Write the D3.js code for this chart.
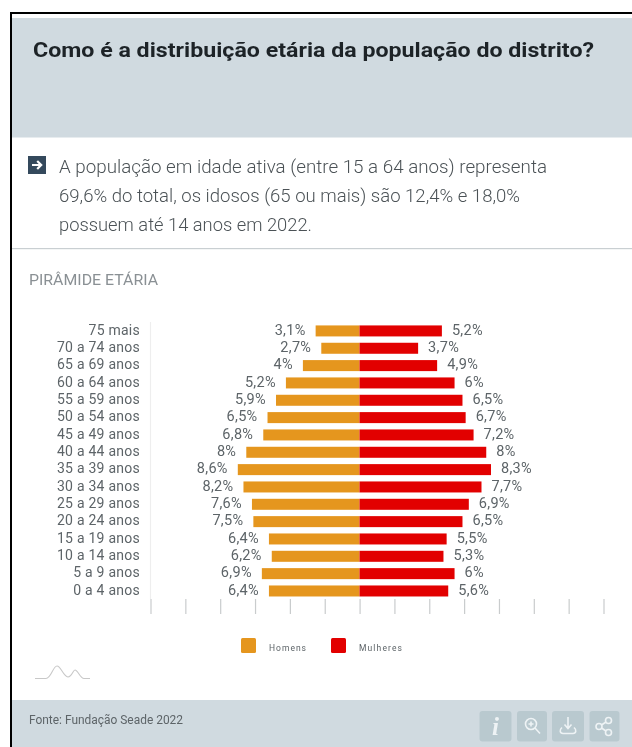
<!DOCTYPE html>
<html lang="pt">
<head>
<meta charset="utf-8">
<script src="https://cdn.jsdelivr.net/npm/d3@7"></script>
<style>
html,body{margin:0;padding:0;background:#fff;overflow:hidden}
svg{display:block;filter:blur(0.5px)}
text{font-family:Roboto,"Open Sans",sans-serif}
</style>
</head>
<body>
<svg id="c" width="632" height="747"></svg>
<script>
const ages = ["75 mais","70 a 74 anos","65 a 69 anos","60 a 64 anos","55 a 59 anos","50 a 54 anos","45 a 49 anos","40 a 44 anos","35 a 39 anos","30 a 34 anos","25 a 29 anos","20 a 24 anos","15 a 19 anos","10 a 14 anos","5 a 9 anos","0 a 4 anos"];
const homens = [3.1,2.7,4,5.2,5.9,6.5,6.8,8,8.6,8.2,7.6,7.5,6.4,6.2,6.9,6.4];
const mulheres = [5.2,3.7,4.9,6,6.5,6.7,7.2,8,8.3,7.7,6.9,6.5,5.5,5.3,6,5.6];
const gridTicks = [-6,-5,-4,-3,-2,-1,0,1,2,3,4,5,6,7];
const seriesNames = ["Homens","Mulheres"];
const seriesColors = ["#e5961e","#e20000"];
const titleText = "Como é a distribuição etária da população do distrito?";
const introLines = ["A população em idade ativa (entre 15 a 64 anos) representa","69,6% do total, os idosos (65 ou mais) são 12,4% e 18,0%","possuem até 14 anos em 2022."];
const sectionLabel = "PIRÂMIDE ETÁRIA";
const sourceText = "Fonte: Fundação Seade 2022";

const svg = d3.select("#c");
const ink = "#5d6468";
const panel = "#d0dae0";
const cx = 359.5;

// frame and panels
svg.append("rect").attr("x",11).attr("y",12).attr("width",621).attr("height",735).attr("fill","#fff");
svg.append("rect").attr("x",12).attr("y",18).attr("width",620).attr("height",119.5).attr("fill",panel);
svg.append("rect").attr("x",12).attr("y",700).attr("width",620).attr("height",47).attr("fill",panel);
svg.append("rect").attr("x",10).attr("y",12).attr("width",622).attr("height",2).attr("fill","#000");
svg.append("rect").attr("x",10).attr("y",12).attr("width",2).attr("height",735).attr("fill","#000");
svg.append("rect").attr("x",12).attr("y",248).attr("width",620).attr("height",1.2).attr("fill","#c9cfd2");

// heading
svg.append("text").attr("x",33).attr("y",56.5).attr("font-size",21).attr("font-weight",700)
  .attr("fill","#1d2327").attr("textLength",561).attr("lengthAdjust","spacingAndGlyphs").text(titleText);

// intro
svg.append("rect").attr("x",28).attr("y",156).attr("width",18).attr("height",18).attr("fill","#34495c");
svg.append("path").attr("d","M32 165H41M37.2 161L41.2 165L37.2 169").attr("fill","none").attr("stroke","#fff").attr("stroke-width",2.2);
const introWidths = [488,461,253];
svg.selectAll(".intro").data(introLines).join("text").attr("class","intro")
  .attr("x",59).attr("y",(d,i)=>173+i*29).attr("font-size",17.5).attr("font-weight",300).attr("fill","#4b5256")
  .attr("textLength",(d,i)=>introWidths[i]).attr("lengthAdjust","spacingAndGlyphs").text(d=>d);
svg.append("text").attr("x",29).attr("y",285).attr("font-size",15).attr("fill","#8a9094")
  .attr("textLength",129).attr("lengthAdjust","spacingAndGlyphs").text(sectionLabel);

// scales
const y = d3.scaleBand().domain(ages).range([322.3,599.6]).paddingInner(0.365).paddingOuter(0.18);
const xL = d3.scaleLinear().domain([0,8.6]).range([cx,237.8]);
const xR = d3.scaleLinear().domain([0,8.3]).range([cx,491]);
const xGrid = d3.scaleLinear().domain([-6,7]).range([150.5,603.5]);

// axis lines
const gridColor = "#c9cccd";
svg.append("g").attr("transform","translate(0,599)")
  .call(d3.axisBottom(xGrid).tickValues(gridTicks).tickSize(15).tickFormat(""))
  .call(g=>g.select(".domain").remove())
  .call(g=>g.selectAll("line").attr("stroke",gridColor).attr("stroke-width",1.2));
svg.append("line").attr("x1",150.5).attr("x2",150.5).attr("y1",322).attr("y2",599).attr("stroke","#eeeeee").attr("stroke-width",1.2);

// bars
svg.selectAll(".h").data(ages).join("rect").attr("class","h")
  .attr("x",(d,i)=>xL(homens[i])).attr("y",d=>y(d)).attr("height",y.bandwidth())
  .attr("width",(d,i)=>cx-xL(homens[i])).attr("fill",seriesColors[0]);
svg.selectAll(".m").data(ages).join("rect").attr("class","m")
  .attr("x",cx).attr("y",d=>y(d)).attr("height",y.bandwidth())
  .attr("width",(d,i)=>xR(mulheres[i])-cx).attr("fill",seriesColors[1]);

const fmt = v => String(v).replace(".",",")+"%";
const mid = d => y(d)+y.bandwidth()/2;

// category labels
svg.selectAll(".age").data(ages).join("text").attr("class","age")
  .attr("x",140).attr("y",d=>mid(d)+3.8).attr("text-anchor","end")
  .attr("font-size",14).attr("fill",ink).style("letter-spacing","0.25px").text(d=>d);
// value labels
svg.selectAll(".vh").data(ages).join("text").attr("class","vh")
  .attr("x",(d,i)=>xL(homens[i])-10).attr("y",d=>mid(d)+3.8).attr("text-anchor","end")
  .attr("font-size",14.5).attr("fill",ink).style("letter-spacing","0.3px").text((d,i)=>fmt(homens[i]));
svg.selectAll(".vm").data(ages).join("text").attr("class","vm")
  .attr("x",(d,i)=>xR(mulheres[i])+10).attr("y",d=>mid(d)+3.8)
  .attr("font-size",14.5).attr("fill",ink).style("letter-spacing","0.3px").text((d,i)=>fmt(mulheres[i]));

// legend
const legX = [241,331], legTextX = [269,359], legW = [37,43];
seriesNames.forEach((n,i)=>{
  svg.append("rect").attr("x",legX[i]).attr("y",638).attr("width",15).attr("height",15).attr("rx",1.5).attr("fill",seriesColors[i]);
  svg.append("text").attr("x",legTextX[i]).attr("y",651).attr("font-size",8.5).attr("fill",ink)
    .attr("textLength",legW[i]).attr("lengthAdjust","spacing").text(n);
});

// small logo
svg.append("path").attr("d","M35 678.5H46C51 678.5 53 666 57 666C61 666 63 676 68 677C72 677 73 670 75 670C78 670 80 678.5 84 678.5H90")
  .attr("fill","none").attr("stroke","#c8c8c8").attr("stroke-width",1.1);

// footer
svg.append("text").attr("x",29).attr("y",724).attr("font-size",12).attr("fill",ink)
  .attr("textLength",154).attr("lengthAdjust","spacingAndGlyphs").text(sourceText);
const btnX = [479.5,517,552,589.5], btnW = [32,30,32,30];
btnX.forEach((x,i)=>svg.append("rect").attr("x",x).attr("y",711).attr("width",btnW[i]).attr("height",30.5).attr("rx",3).attr("fill","#b9c9cf"));
const ico = svg.append("g").attr("fill","none").attr("stroke","#eef3f5").attr("stroke-width",1.6);
svg.append("text").attr("x",495.5).attr("y",735).attr("text-anchor","middle")
  .attr("font-style","italic").attr("font-weight",700).attr("font-size",25).attr("fill","#eef3f5").style("font-family","'Liberation Serif'").text("i");
ico.append("circle").attr("cx",531).attr("cy",724).attr("r",5.5);
ico.append("path").attr("d","M535 728L540 733.5M528.5 724H533.5M531 721.5V726.5");
ico.append("path").attr("d","M568 717V728M564.5 724.5L568 728.5L571.5 724.5M562 727.5C559 730 560 733.5 563 733.5H573C576 733.5 577 730 574 727.5");
ico.append("circle").attr("cx",608.5).attr("cy",720.5).attr("r",3);
ico.append("circle").attr("cx",608.5).attr("cy",732.5).attr("r",3);
ico.append("circle").attr("cx",599).attr("cy",726.5).attr("r",3);
ico.append("path").attr("d","M601.5 725L606 722M601.5 728L606 731");
</script>
</body>
</html>
